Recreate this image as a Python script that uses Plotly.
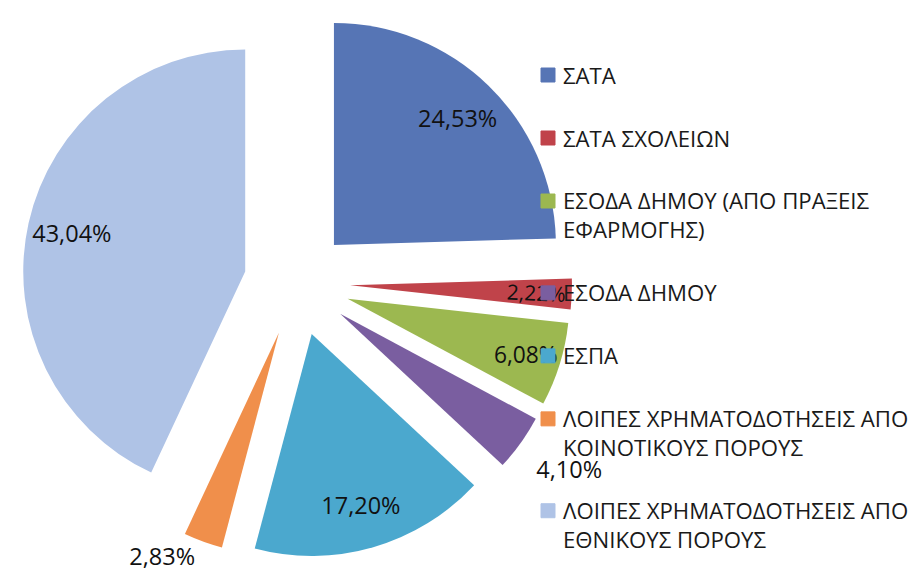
import plotly.graph_objects as go

# ---- data ----
labels = [
    'ΣΑΤΑ',
    'ΣΑΤΑ ΣΧΟΛΕΙΩΝ',
    'ΕΣΟΔΑ ΔΗΜΟΥ (ΑΠΟ ΠΡΑΞΕΙΣ ΕΦΑΡΜΟΓΗΣ)',
    'ΕΣΟΔΑ ΔΗΜΟΥ',
    'ΕΣΠΑ',
    'ΛΟΙΠΕΣ ΧΡΗΜΑΤΟΔΟΤΗΣΕΙΣ ΑΠΟ ΚΟΙΝΟΤΙΚΟΥΣ ΠΟΡΟΥΣ',
    'ΛΟΙΠΕΣ ΧΡΗΜΑΤΟΔΟΤΗΣΕΙΣ ΑΠΟ ΕΘΝΙΚΟΥΣ ΠΟΡΟΥΣ',
]
legend_lines = [
    ['ΣΑΤΑ'],
    ['ΣΑΤΑ ΣΧΟΛΕΙΩΝ'],
    ['ΕΣΟΔΑ ΔΗΜΟΥ (ΑΠΟ ΠΡΑΞΕΙΣ', 'ΕΦΑΡΜΟΓΗΣ)'],
    ['ΕΣΟΔΑ ΔΗΜΟΥ'],
    ['ΕΣΠΑ'],
    ['ΛΟΙΠΕΣ ΧΡΗΜΑΤΟΔΟΤΗΣΕΙΣ ΑΠΟ', 'ΚΟΙΝΟΤΙΚΟΥΣ ΠΟΡΟΥΣ'],
    ['ΛΟΙΠΕΣ ΧΡΗΜΑΤΟΔΟΤΗΣΕΙΣ ΑΠΟ', 'ΕΘΝΙΚΟΥΣ ΠΟΡΟΥΣ'],
]
values = [24.53, 2.22, 6.08, 4.10, 17.20, 2.83, 43.04]

# ---- style ----
colors = ['#5675B5', '#C0434A', '#9CB850', '#7A5EA0', '#4BA8CE', '#F08F4B', '#AFC3E6']
W, H = 921, 583
FONT = 'Open Sans'
pull = 0.239
dom_x = [0.01086, 0.6167]
dom_y = [0.0566, 1.0]
# un-pulled label layer for the thin slice (same centre, larger radius)
dom_x_thin = [0.02063, 0.60695]
dom_y_thin = [0.0652, 0.99142]
n = len(values)

base = dict(
    labels=labels, values=values, sort=False, direction='clockwise',
    rotation=0, showlegend=False, automargin=False,
)

fig = go.Figure()
# slices
fig.add_trace(go.Pie(
    **base, pull=[pull] * n, domain=dict(x=dom_x, y=dom_y),
    marker=dict(colors=colors, line=dict(width=0)),
    textinfo='none',
    hovertemplate='%{label}: %{percent:.2%}<extra></extra>',
))
# percentage labels (horizontal, in the outer ring)
pct = '%{percent:.2%}'
pos_h = ['inside', 'none', 'inside', 'outside', 'inside', 'outside', 'inside']
tmpl_h = [pct, pct, pct, '\u00a0<br>' + pct, pct, pct, pct]
fig.add_trace(go.Pie(
    **base, pull=[pull] * n, domain=dict(x=dom_x, y=dom_y), hole=0.6,
    marker=dict(colors=['rgba(0,0,0,0)'] * n, line=dict(width=0)),
    texttemplate=tmpl_h, textposition=pos_h,
    insidetextorientation='horizontal',
    textfont=dict(family=FONT, size=23.5, color='#111111'),
    hoverinfo='skip',
))
# percentage label for the thin slice
pos_r = ['none', 'inside', 'none', 'none', 'none', 'none', 'none']
fig.add_trace(go.Pie(
    **base, domain=dict(x=dom_x_thin, y=dom_y_thin), hole=0.6,
    marker=dict(colors=['rgba(0,0,0,0)'] * n, line=dict(width=0)),
    texttemplate=pct, textposition=pos_r,
    insidetextorientation='radial',
    textfont=dict(family=FONT, size=23.5, color='#111111'),
    hoverinfo='skip',
))

# ---- custom legend ----
leg_font = 22.2
line_h = leg_font * 1.3
item_gap = 63
marker_x = 540
text_x = 553
y = 67
shapes, annotations = [], []
for i, lines in enumerate(legend_lines):
    shapes.append(dict(
        type='rect', xref='paper', yref='paper',
        x0=(marker_x - 7) / W, x1=(marker_x + 7) / W,
        y0=1 - (y + 7) / H, y1=1 - (y - 7) / H,
        fillcolor=colors[i], line=dict(color=colors[i], width=1),
    ))
    yc = y + (len(lines) - 1) * line_h / 2
    annotations.append(dict(
        text='<br>'.join(lines), xref='paper', yref='paper',
        x=text_x / W, y=1 - yc / H, xanchor='left', yanchor='middle',
        align='left', showarrow=False,
        font=dict(family=FONT, size=leg_font, color='#1a1a1a'),
    ))
    y += item_gap + (len(lines) - 1) * line_h

fig.update_layout(
    width=W, height=H,
    margin=dict(l=0, r=0, t=0, b=0, autoexpand=False),
    paper_bgcolor='white', plot_bgcolor='white',
    separators=',.',
    shapes=shapes, annotations=annotations,
    font=dict(family=FONT),
)

fig.write_html('out.html')
